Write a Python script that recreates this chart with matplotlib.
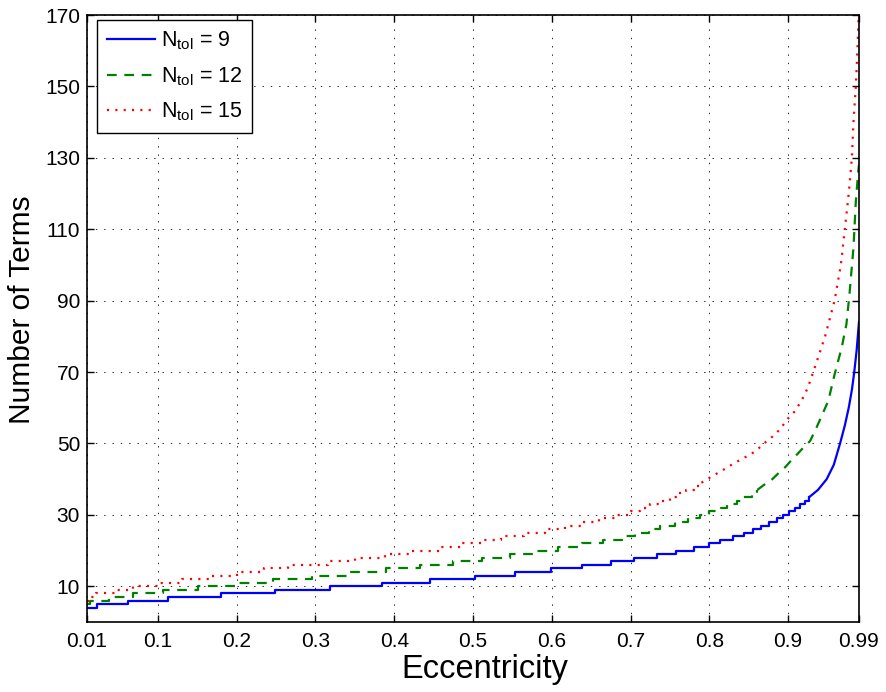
import matplotlib
matplotlib.use('Agg')
import matplotlib.pyplot as plt

plt.rcParams['font.family'] = ['Liberation Sans', 'DejaVu Sans']
plt.rcParams['mathtext.fontset'] = 'custom'
plt.rcParams['mathtext.rm'] = 'Liberation Sans'
plt.rcParams['lines.scale_dashes'] = False

# step breakpoints (value holds from each e onward)
blue_e = [0.01, 0.023, 0.062, 0.113, 0.180, 0.249, 0.3185, 0.384, 0.445, 0.502,
          0.553, 0.599, 0.639, 0.675, 0.705, 0.733, 0.758, 0.780, 0.800, 0.814,
          0.830, 0.844, 0.856, 0.866, 0.876, 0.886, 0.894, 0.901, 0.909, 0.915,
          0.921, 0.927]
blue_n = [4, 5, 6, 7, 8, 9, 10, 11, 12, 13,
          14, 15, 16, 17, 18, 19, 20, 21, 22, 23,
          24, 25, 26, 27, 28, 29, 30, 31, 32, 33,
          34, 35]
# steep end, where the steps merge into a curve
blue_tail_e = [0.927, 0.938, 0.949, 0.958, 0.966, 0.972, 0.977, 0.981, 0.984, 0.987, 0.99]
blue_tail_n = [35, 37, 40, 44, 50, 55, 60, 65, 70, 76, 84]

green_e = [0.01, 0.014, 0.038, 0.069, 0.106, 0.151, 0.198, 0.246, 0.295, 0.344,
           0.390, 0.433, 0.475, 0.511, 0.547, 0.579, 0.608, 0.638, 0.665, 0.689,
           0.706, 0.723, 0.737, 0.756, 0.773, 0.788, 0.800, 0.815, 0.822, 0.835,
           0.841, 0.854, 0.861]
green_n = [5, 6, 7, 8, 9, 10, 11, 12, 13, 14,
           15, 16, 17, 18, 19, 20, 21, 22, 23, 24,
           25, 26, 27, 28, 29, 30, 31, 32, 33, 34,
           35, 36, 37]
green_tail_e = [0.861, 0.870, 0.880, 0.887, 0.897, 0.905, 0.913, 0.920, 0.928, 0.936,
                0.951, 0.959, 0.968, 0.974, 0.978, 0.983, 0.986, 0.989, 0.99]
green_tail_n = [37, 38.5, 40, 41.5, 43.5, 45.5, 47.3, 49, 50.7, 54.4,
                61.9, 69.3, 76.8, 83.3, 92, 104.8, 117.8, 126, 128]

red_e = [0.01, 0.015, 0.022, 0.045, 0.068, 0.100, 0.130, 0.165, 0.200, 0.235,
         0.265, 0.316, 0.350, 0.388, 0.422, 0.458, 0.486, 0.511, 0.536, 0.565,
         0.592, 0.617, 0.640, 0.660, 0.680, 0.700, 0.712, 0.725, 0.738, 0.750,
         0.760, 0.770, 0.780, 0.790]
red_n = [6, 7, 8, 9, 10, 11, 12, 13, 14, 15,
         16, 17, 18, 19, 20, 21, 22, 23, 24, 25,
         26, 27, 28, 29, 30, 31, 32, 33, 34, 35,
         36, 37, 38, 39]
red_tail_e = [0.790, 0.805, 0.817, 0.828, 0.840, 0.853, 0.862, 0.871, 0.880, 0.890,
              0.899, 0.909, 0.918, 0.925, 0.932, 0.947, 0.959, 0.967, 0.972, 0.977,
              0.981, 0.983, 0.986, 0.988, 0.99]
red_tail_n = [39, 41, 42.5, 44, 45.5, 47, 48.5, 50.3, 51.9, 54,
              56.8, 59.1, 62.4, 65.6, 70, 80, 90, 100, 110, 120,
              130, 140, 150, 160, 172]

labels = [r'N$_{\mathrm{tol}}$ = 9', r'N$_{\mathrm{tol}}$ = 12', r'N$_{\mathrm{tol}}$ = 15']
xticks = [0.01, 0.1, 0.2, 0.3, 0.4, 0.5, 0.6, 0.7, 0.8, 0.9, 0.99]
xticklabels = ['0.01', '0.1', '0.2', '0.3', '0.4', '0.5', '0.6', '0.7', '0.8', '0.9', '0.99']
yticks = [10, 30, 50, 70, 90, 110, 130, 150, 170]

fig = plt.figure(figsize=(8.86, 6.92), dpi=100)
ax = fig.add_axes([0.0982, 0.1012, 0.8713, 0.8771])

blue = (0, 0, 1)
green = (0, 0.5, 0)
red = (1, 0, 0)
dash = (0, (7, 5.5))
dot = (0, (1.5, 4.5))
lw = 1.6

l1, = ax.plot(blue_e, blue_n, color=blue, lw=lw, drawstyle='steps-post')
ax.plot(blue_tail_e, blue_tail_n, color=blue, lw=lw)
l2, = ax.plot(green_e, green_n, color=green, lw=lw, ls=dash, drawstyle='steps-post')
ax.plot(green_tail_e, green_tail_n, color=green, lw=lw, ls=dash)
l3, = ax.plot(red_e, red_n, color=red, lw=lw, ls=dot, drawstyle='steps-post')
ax.plot(red_tail_e, red_tail_n, color=red, lw=lw, ls=dot)

ax.set_xlim(0.01, 0.99)
ax.set_ylim(0, 170)
ax.set_xticks(xticks)
ax.set_xticklabels(xticklabels)
ax.set_yticks(yticks)
ax.tick_params(direction='in', top=True, right=True, length=5, width=1,
               labelsize=15, colors='k')
ax.tick_params(axis='x', pad=7)
ax.tick_params(axis='y', pad=5)
ax.grid(True, color='0.15', linestyle=(0, (1, 5)), linewidth=0.7)
for s in ax.spines.values():
    s.set_linewidth(1.2)

ax.set_xlabel('Eccentricity', fontsize=23.5)
ax.xaxis.set_label_coords(0.515, -0.053)
ax.set_ylabel('Number of Terms', fontsize=21.5)
ax.yaxis.set_label_coords(-0.066, 0.514)

leg = ax.legend([l1, l2, l3], labels, loc='upper left', bbox_to_anchor=(0.013, 0.992),
                borderaxespad=0, fontsize=15.5, handlelength=2.25, handletextpad=0.25,
                labelspacing=0.6, borderpad=0.45, fancybox=False, framealpha=1,
                edgecolor='k')
leg.get_frame().set_linewidth(1.0)

fig.savefig('out.png', dpi=100)
